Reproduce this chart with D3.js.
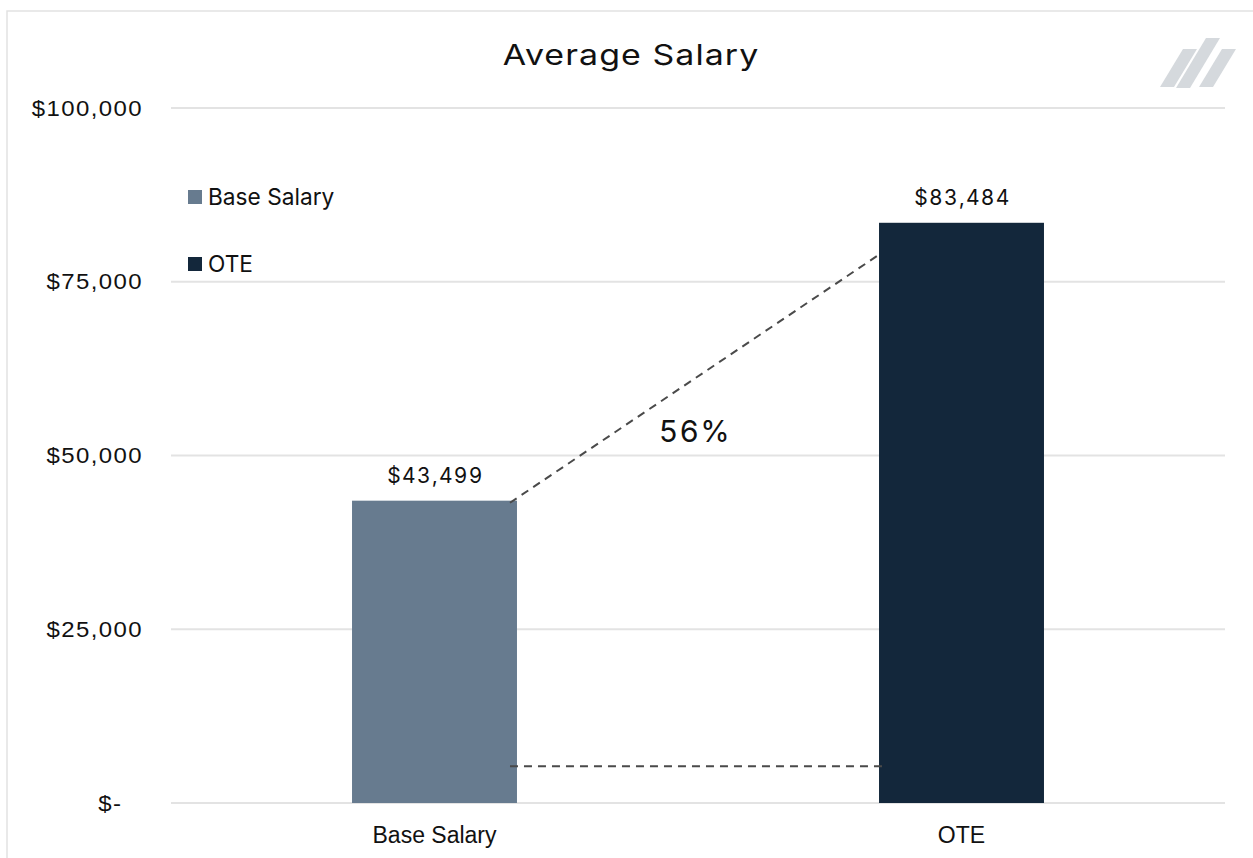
<!DOCTYPE html>
<html>
<head>
<meta charset="utf-8">
<script src="https://cdn.jsdelivr.net/npm/d3@7"></script>
<style>
  html, body { margin: 0; padding: 0; background: #fff; }
  svg { display: block; font-family: Inter, "Liberation Sans", sans-serif; }
  .num { font-variant-numeric: tabular-nums; letter-spacing: 1.3px; }
</style>
</head>
<body>
<div id="chart"></div>
<script>
const categories = ['Base Salary', 'OTE'];
const salaries = [43499, 83484];
const barColors = ['#677b8f', '#13273b'];
const yTicks = [0, 25000, 50000, 75000, 100000];
const yTickLabels = ['$-', '$25,000', '$50,000', '$75,000', '$100,000'];
const valueLabels = ['$43,499', '$83,484'];
const upliftLabel = '56%';
// annotation line ends, in data units: [category, value]
const diagonalLine = [['Base Salary', 43200], ['OTE', 78800]];
const baseLine = [['Base Salary', 5300], ['OTE', 5300]];

const WIDTH = 1253;
const HEIGHT = 858;
const MARGIN = { left: 171, right: 28, top: 108, bottom: 55 };

const svg = d3.select('#chart')
    .append('svg')
    .attr('width', WIDTH)
    .attr('height', HEIGHT);

// outer frame (only left/top edges fall inside the picture)
svg.append('rect')
    .attr('x', 7).attr('y', 11)
    .attr('width', WIDTH + 20).attr('height', HEIGHT + 20)
    .attr('fill', 'none')
    .attr('stroke', '#e2e2e2')
    .attr('stroke-width', 1.5);

const x = d3.scaleBand()
    .domain(categories)
    .range([MARGIN.left, WIDTH - MARGIN.right])
    .paddingInner(0.687)
    .paddingOuter(0.3435);

const y = d3.scaleLinear()
    .domain([0, 100000])
    .range([HEIGHT - MARGIN.bottom, MARGIN.top]);

// gridlines
svg.append('g')
    .selectAll('line')
    .data(yTicks)
    .join('line')
    .attr('x1', MARGIN.left)
    .attr('x2', WIDTH - MARGIN.right)
    .attr('y1', d => y(d))
    .attr('y2', d => y(d))
    .attr('stroke', '#e3e3e3')
    .attr('stroke-width', 2);

// y axis labels (slightly widened to match the wide source face)
const yAxis = d3.axisLeft(y)
    .tickValues(yTicks)
    .tickFormat((d, i) => yTickLabels[i])
    .tickSize(0)
    .tickPadding(0);

svg.append('g')
    .attr('transform', `translate(142,0)`)
    .call(yAxis)
    .call(g => g.select('.domain').remove())
    .call(g => g.selectAll('text')
        .attr('class', 'num')
        .attr('font-size', 22)
        .attr('font-family', null)
        .attr('fill', '#111')
        .attr('x', d => d === 0 ? -18 : 1)
        .attr('transform', 'scale(1.09,1)'));

// bars
svg.append('g')
    .selectAll('rect')
    .data(categories)
    .join('rect')
    .attr('x', d => x(d))
    .attr('y', (d, i) => y(salaries[i]))
    .attr('width', x.bandwidth())
    .attr('height', (d, i) => y(0) - y(salaries[i]))
    .attr('fill', (d, i) => barColors[i]);

// value labels
svg.append('g')
    .selectAll('text')
    .data(categories)
    .join('text')
    .attr('class', 'num')
    .attr('x', d => x(d) + x.bandwidth() / 2 + 1)
    .attr('y', (d, i) => y(salaries[i]) - 18)
    .attr('text-anchor', 'middle')
    .attr('font-size', 21)
    .attr('fill', '#111')
    .text((d, i) => valueLabels[i]);

// x axis labels
const xAxis = d3.axisBottom(x).tickSize(0).tickPadding(0);
svg.append('g')
    .attr('transform', `translate(0,${y(0) + 24})`)
    .call(xAxis)
    .call(g => g.select('.domain').remove())
    .call(g => g.selectAll('text')
        .attr('font-size', 23)
        .attr('font-family', null)
        .attr('fill', '#111'));

// dashed annotation lines
const barEdge = (cat, side) => side === 'right'
    ? x(cat) + x.bandwidth() - 7
    : x(cat);

const dashed = (pts, tailX) => svg.append('line')
    .attr('x1', barEdge(pts[0][0], 'right'))
    .attr('y1', y(pts[0][1]))
    .attr('x2', barEdge(pts[1][0], 'left') + tailX)
    .attr('y2', y(pts[1][1]))
    .attr('stroke', '#4a4a4a')
    .attr('stroke-width', 2)
    .attr('stroke-dasharray', '8,6');

dashed(diagonalLine, -1);
dashed(baseLine, 3);

svg.append('text')
    .attr('class', 'num')
    .attr('x', 695)
    .attr('y', 442)
    .attr('text-anchor', 'middle')
    .attr('font-size', 30)
    .attr('fill', '#111')
    .text(upliftLabel);

// legend
const legend = svg.append('g')
    .selectAll('g')
    .data(categories)
    .join('g')
    .attr('transform', (d, i) => `translate(188,${190 + i * 67})`);

legend.append('rect')
    .attr('width', 14)
    .attr('height', 14)
    .attr('fill', (d, i) => barColors[i]);

legend.append('text')
    .attr('x', 20)
    .attr('y', 15)
    .attr('font-size', 22.7)
    .attr('fill', '#111')
    .text(d => d);

// title, stretched horizontally rather than letter-spaced
svg.append('text')
    .attr('transform', 'translate(631,65) scale(1.19,1)')
    .attr('text-anchor', 'middle')
    .attr('font-size', 28.5)
    .attr('letter-spacing', 0.9)
    .attr('fill', '#111')
    .text('Average Salary');

// logo marks
const logo = [
    [[1183, 49], [1197, 49], [1174, 87], [1160, 87]],
    [[1206, 38], [1220, 38], [1190, 88], [1176, 88]],
    [[1222, 49], [1236, 49], [1213, 87], [1199, 87]]
];
svg.append('g')
    .selectAll('path')
    .data(logo)
    .join('path')
    .attr('d', d => d3.line()(d) + 'Z')
    .attr('fill', '#d5d9dd');
</script>
</body>
</html>
